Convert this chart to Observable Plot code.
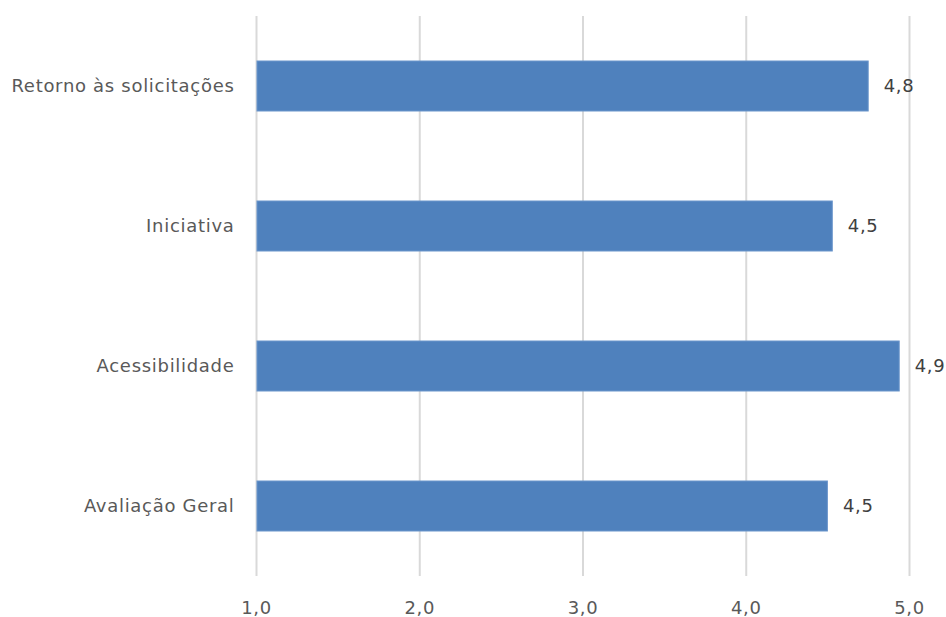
<!DOCTYPE html>
<html>
<head>
<meta charset="utf-8">
<script src="https://cdn.jsdelivr.net/npm/d3@7"></script>
<script src="https://cdn.jsdelivr.net/npm/@observablehq/plot@0.6"></script>
<style>
  html, body { margin: 0; padding: 0; background: #fff; }
  #chart { width: 946px; height: 617px; }
</style>
</head>
<body>
<div id="chart"></div>
<script>
const categories = ["Retorno às solicitações", "Iniciativa", "Acessibilidade", "Avaliação Geral"];
const values = [4.75, 4.53, 4.94, 4.50];
const xTicks = [1, 2, 3, 4, 5];

const data = categories.map((c, i) => ({category: c, value: values[i]}));
const fmt = d => d.toFixed(1).replace(".", ",");
const font = "'DejaVu Sans', sans-serif";

const chart = Plot.plot({
  width: 946,
  height: 617,
  marginTop: 16,
  marginBottom: 41,
  marginLeft: 256,
  marginRight: 37,
  style: {fontFamily: font, color: "#595959", background: "#fff", letterSpacing: "0.7px"},
  x: {domain: [1, 5]},
  y: {domain: categories, paddingInner: 0.643, paddingOuter: 0.3215},
  marks: [
    Plot.ruleX(xTicks, {stroke: "#d9d9d9", strokeWidth: 2}),
    Plot.barX(data, {x1: 1, x2: "value", y: "category", fill: "#4f81bd", stroke: "#6a95cb", strokeWidth: 1, insetLeft: 1}),
    Plot.text(data, {x: "value", y: "category", text: d => fmt(d.value), textAnchor: "start", dx: 15, fill: "#404040", fontSize: 18}),
    Plot.axisX({ticks: xTicks, tickFormat: fmt, tickSize: 0, tickPadding: 25, label: null, fontSize: 18, fill: "#595959"}),
    Plot.axisY({tickSize: 0, tickPadding: 22, label: null, fontSize: 18, fill: "#595959"})
  ]
});
document.getElementById("chart").appendChild(chart);
</script>
</body>
</html>
